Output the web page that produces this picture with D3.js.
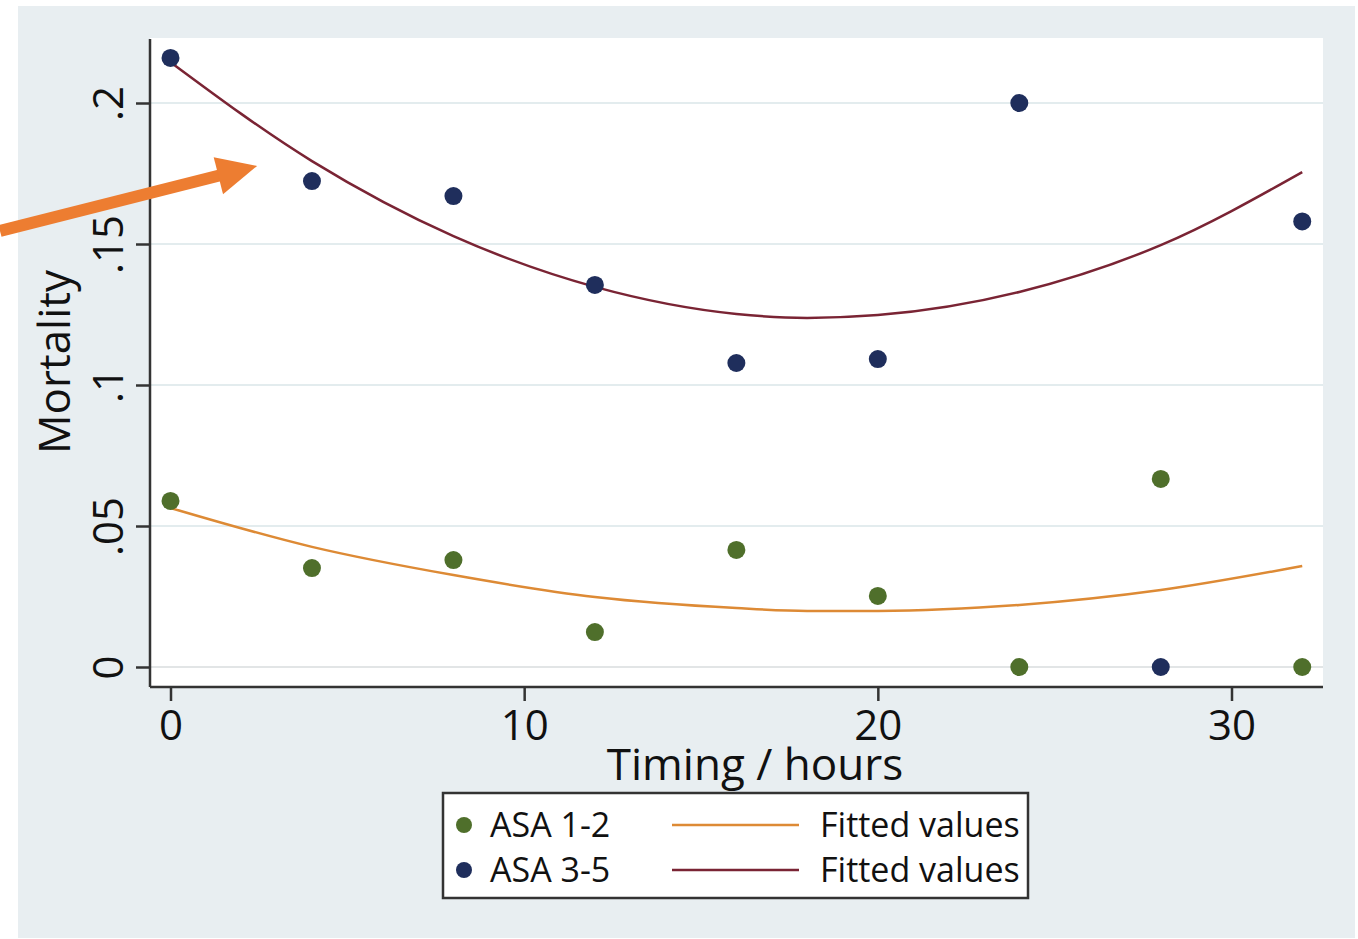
<!DOCTYPE html>
<html>
<head>
<meta charset="utf-8">
<title>Mortality by timing</title>
<script src="https://cdn.jsdelivr.net/npm/d3@7"></script>
<style>
  body { margin: 0; background: #fff; }
  text { font-family: "Open Sans", "Noto Sans", sans-serif; fill: #111; }
</style>
</head>
<body>
<div id="chart"></div>
<script>

// Observed points, one per 4-hour bucket
var hours = [0, 4, 8, 12, 16, 20, 24, 28, 32];
var asa12 = [0.0589, 0.0351, 0.0379, 0.0124, 0.0415, 0.0252, 0, 0.0667, 0];
var asa35 = [0.216, 0.1723, 0.167, 0.1355, 0.1078, 0.1092, 0.2, 0, 0.158];

// Fitted values
var fitHours = [0, 4, 8, 12, 16, 18, 20, 24, 28, 32];
var fit12 = [0.0564, 0.0426, 0.0326, 0.0248, 0.0209, 0.0199, 0.0199, 0.022, 0.0273, 0.0358];
var fit35 = [0.2145, 0.1794, 0.1528, 0.1348, 0.1252, 0.1238, 0.1248, 0.133, 0.1496, 0.1755];

var xTicks = [0, 10, 20, 30];
var yTicks = [0, 0.05, 0.1, 0.15, 0.2];
var yTickLabels = ['0', '.05', '.1', '.15', '.2'];

var legendItems = ['ASA 1-2', 'ASA 3-5'];
var fitLabel = 'Fitted values';

// annotation arrow, in data units (tail sits outside the plot)
var arrowTail = [-4.82, 0.1546];
var arrowTip = [2.45, 0.1777];

var colors = {
  green: '#4f6f2b',
  navy: '#1f2e5c',
  orange: '#dd8a35',
  maroon: '#7a2434',
  arrow: '#ed7d31'
};

var width = 1358, height = 939;

var svg = d3.select('#chart').append('svg')
    .attr('width', width)
    .attr('height', height);

// outer graph region
svg.append('rect')
    .attr('x', 18).attr('y', 6)
    .attr('width', 1337).attr('height', 932)
    .attr('fill', '#e8eef1');

// plot region
var plot = { left: 150, right: 1323, top: 38, bottom: 687 };

svg.append('rect')
    .attr('x', plot.left).attr('y', plot.top)
    .attr('width', plot.right - plot.left)
    .attr('height', plot.bottom - plot.top)
    .attr('fill', '#fff');

var x = d3.scaleLinear().domain([0, 30]).range([170.5, 1231.5]);
var y = d3.scaleLinear().domain([0, 0.2]).range([667, 103]);

// gridlines
svg.append('g').selectAll('line')
    .data(yTicks)
  .enter().append('line')
    .attr('x1', plot.left).attr('x2', plot.right)
    .attr('y1', function(d) { return y(d); })
    .attr('y2', function(d) { return y(d); })
    .attr('stroke', function(d) { return d === 0 ? '#e2e5e6' : '#e3ecee'; })
    .attr('stroke-width', 2);

/**
 * Axes
 */
var yAxis = svg.append('g')
    .attr('transform', 'translate(' + plot.left + ',0)')
    .call(d3.axisLeft(y)
      .tickValues(yTicks)
      .tickSize(14)
      .tickFormat(function(d, i) { return yTickLabels[i]; }));

yAxis.select('.domain').remove();
yAxis.append('line')
    .attr('x1', 0).attr('x2', 0)
    .attr('y1', plot.top + 1).attr('y2', plot.bottom)
    .attr('stroke', '#333').attr('stroke-width', 2.5);

yAxis.selectAll('.tick line').attr('stroke', '#333').attr('stroke-width', 2.5);
yAxis.selectAll('.tick text')
    .attr('x', 0).attr('y', -27).attr('dy', 0)
    .attr('text-anchor', 'middle')
    .attr('transform', 'rotate(-90)')
    .style('font-size', '42px')
    .style('font-family', '"Open Sans", sans-serif')
    .attr('fill', '#111');

var xAxis = svg.append('g')
    .attr('transform', 'translate(0,' + plot.bottom + ')')
    .call(d3.axisBottom(x)
      .tickValues(xTicks)
      .tickSize(14)
      .tickFormat(d3.format('d')));

xAxis.select('.domain').remove();
xAxis.append('line')
    .attr('x1', plot.left).attr('x2', plot.right)
    .attr('y1', 0).attr('y2', 0)
    .attr('stroke', '#333').attr('stroke-width', 2.5);

xAxis.selectAll('.tick line').attr('stroke', '#333').attr('stroke-width', 2.5);
xAxis.selectAll('.tick text')
    .attr('y', 53).attr('dy', 0)
    .style('font-size', '42px')
    .style('font-family', '"Open Sans", sans-serif')
    .attr('fill', '#111');

// axis titles
svg.append('text')
    .attr('transform', 'translate(70,362) rotate(-90)')
    .attr('text-anchor', 'middle')
    .style('font-size', '44px')
    .text('Mortality');

svg.append('text')
    .attr('x', 755).attr('y', 780)
    .attr('text-anchor', 'middle')
    .style('font-size', '44px')
    .text('Timing / hours');

/**
 * Fitted curves
 */
var line = d3.line()
    .x(function(d) { return x(d[0]); })
    .y(function(d) { return y(d[1]); })
    .curve(d3.curveMonotoneX);

svg.append('path')
    .datum(d3.zip(fitHours, fit12))
    .attr('d', line)
    .attr('fill', 'none')
    .attr('stroke', colors.orange)
    .attr('stroke-width', 2.5);

svg.append('path')
    .datum(d3.zip(fitHours, fit35))
    .attr('d', line)
    .attr('fill', 'none')
    .attr('stroke', colors.maroon)
    .attr('stroke-width', 2.5);

/**
 * Points
 */
function drawPoints(values, color) {
  svg.append('g').selectAll('circle')
      .data(d3.zip(hours, values))
    .enter().append('circle')
      .attr('cx', function(d) { return x(d[0]); })
      .attr('cy', function(d) { return y(d[1]); })
      .attr('r', 9)
      .attr('fill', color);
}

drawPoints(asa12, colors.green);
drawPoints(asa35, colors.navy);

/**
 * Legend
 */
var legend = svg.append('g').attr('transform', 'translate(443,793)');

legend.append('rect')
    .attr('width', 585).attr('height', 105)
    .attr('fill', '#fff')
    .attr('stroke', '#333')
    .attr('stroke-width', 2.5);

var pointColors = [colors.green, colors.navy];
var lineColors = [colors.orange, colors.maroon];

var rows = legend.selectAll('g.row')
    .data(legendItems)
  .enter().append('g')
    .attr('class', 'row')
    .attr('transform', function(d, i) { return 'translate(0,' + (32 + i * 45) + ')'; });

rows.append('circle')
    .attr('cx', 21).attr('cy', 0).attr('r', 8)
    .attr('fill', function(d, i) { return pointColors[i]; });

rows.append('text')
    .attr('x', 47).attr('y', 12)
    .style('font-size', '34px')
    .text(function(d) { return d; });

rows.append('line')
    .attr('x1', 229).attr('x2', 356)
    .attr('y1', 0).attr('y2', 0)
    .attr('stroke', function(d, i) { return lineColors[i]; })
    .attr('stroke-width', 2.5);

rows.append('text')
    .attr('x', 377).attr('y', 12)
    .style('font-size', '34px')
    .text(fitLabel);

/**
 * Annotation arrow pointing at the ASA 3-5 curve
 */
var tail = [x(arrowTail[0]), y(arrowTail[1])];
var tip = [x(arrowTip[0]), y(arrowTip[1])];
var ang = Math.atan2(tip[1] - tail[1], tip[0] - tail[0]);
var headLen = 40, headHalf = 19;
var base = [tip[0] - headLen * Math.cos(ang), tip[1] - headLen * Math.sin(ang)];
var nx = -Math.sin(ang), ny = Math.cos(ang);

svg.append('line')
    .attr('x1', tail[0]).attr('y1', tail[1])
    .attr('x2', base[0] + 2 * Math.cos(ang)).attr('y2', base[1] + 2 * Math.sin(ang))
    .attr('stroke', colors.arrow)
    .attr('stroke-width', 12);

svg.append('path')
    .attr('d', 'M' + tip[0] + ',' + tip[1] +
      'L' + (base[0] + nx * headHalf) + ',' + (base[1] + ny * headHalf) +
      'L' + (base[0] - nx * headHalf) + ',' + (base[1] - ny * headHalf) + 'Z')
    .attr('fill', colors.arrow);

</script>
</body>
</html>
